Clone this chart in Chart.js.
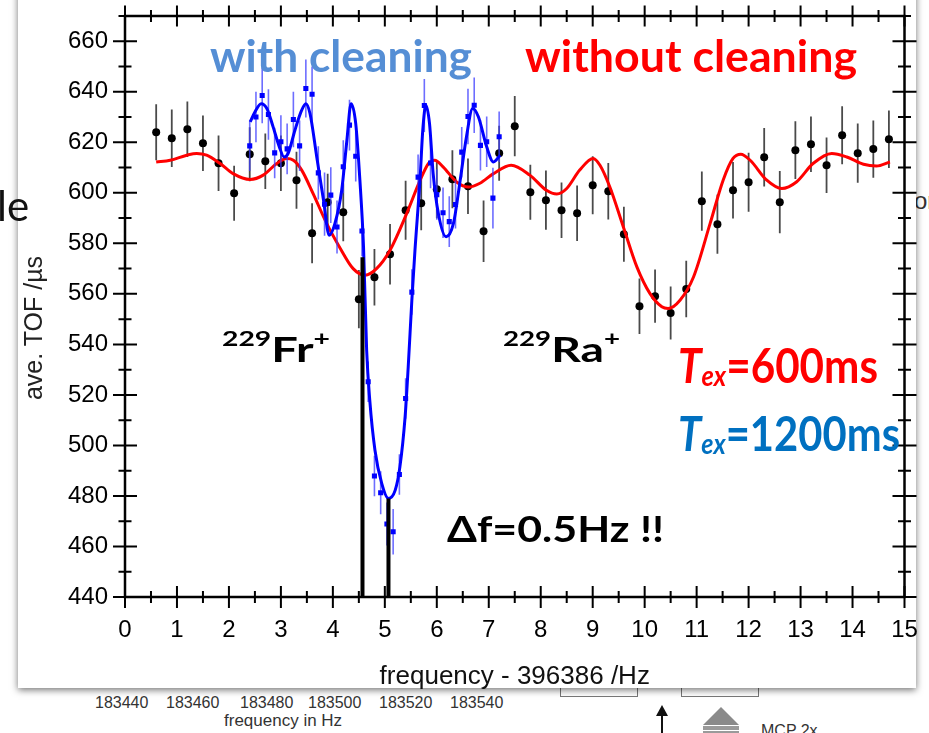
<!DOCTYPE html>
<html>
<head>
<meta charset="utf-8">
<script src="https://cdn.jsdelivr.net/npm/chart.js@4.4.1/dist/chart.umd.min.js"></script>
<style>
  html, body { margin: 0; padding: 0; background: #fff; }
  #page { position: relative; width: 929px; height: 733px; overflow: hidden; background: #fff;
          font-family: "Liberation Sans", Arial, sans-serif; }
  #panel { position: absolute; left: 18px; top: -20px; width: 898px; height: 708px; background: #fff;
           box-shadow: 0 2px 7px rgba(0,0,0,0.55); }
  #chart { position: absolute; left: 0; top: 0; }
  .note { position: absolute; font-family: Lato, "Open Sans", sans-serif; font-weight: 700; line-height: 1;
          white-space: nowrap; transform-origin: 0 0; }
  .sup { font-size: 0.6em; position: relative; top: -0.75em; }
  .sub { font-size: 0.6em; position: relative; top: 0.12em; font-style: italic; }
  .it { font-style: italic; }
  .bg { position: absolute; white-space: nowrap; color: #333; }
  .box { position: absolute; border: 1.5px solid #777; background: #fff; }
  #ytitle { position: absolute; left: -67px; top: 313px; width: 200px; height: 30px; line-height: 30px;
            text-align: center; font-size: 25px; color: #222; transform: rotate(-90deg); white-space: nowrap; }
</style>
</head>
<body>
<div id="page">
  <!-- parts of the slide lying behind the plot panel -->
  <div class="bg" style="left:914px; top:187px; font-size:24px;">or</div>
  <div class="bg" style="left:95px; top:694px; font-size:16px;">183440</div>
  <div class="bg" style="left:166px; top:694px; font-size:16px;">183460</div>
  <div class="bg" style="left:240px; top:694px; font-size:16px;">183480</div>
  <div class="bg" style="left:308px; top:694px; font-size:16px;">183500</div>
  <div class="bg" style="left:379px; top:694px; font-size:16px;">183520</div>
  <div class="bg" style="left:450px; top:694px; font-size:16px;">183540</div>
  <div class="bg" style="left:224px; top:711px; font-size:17px;">frequency in Hz</div>
  <div class="box" style="left:560px; top:640px; width:76px; height:55px;"></div>
  <div class="box" style="left:681px; top:640px; width:76px; height:55px;"></div>
  <div style="position:absolute; left:661px; top:714px; width:2px; height:30px; background:#111;"></div>
  <div style="position:absolute; left:656px; top:705px; width:0; height:0; border-left:6px solid transparent; border-right:6px solid transparent; border-bottom:11px solid #111;"></div>
  <div style="position:absolute; left:703px; top:707px; width:0; height:0; border-left:18px solid transparent; border-right:18px solid transparent; border-bottom:18px solid #8a8a8a;"></div>
  <div style="position:absolute; left:703px; top:726px; width:36px; height:4px; background:#9a9a9a;"></div>
  <div style="position:absolute; left:703px; top:731px; width:36px; height:4px; background:#9a9a9a;"></div>
  <div class="bg" style="left:761px; top:722px; font-size:16px;">MCP 2x</div>

  <div id="panel"></div>
  <canvas id="chart" width="929" height="733"></canvas>

  <div class="bg" style="left:-3px; top:180px; font-family:Lato,sans-serif; font-size:42px; color:#111;">le</div>
  <div id="ytitle">ave. TOF /µs</div>

  <div class="note" data-w="262" style="left:210px; top:33px; font-size:44px; color:#558ED5;">with cleaning</div>
  <div class="note" data-w="332" style="left:525px; top:33px; font-size:44px; color:#FF0000;">without cleaning</div>
  <div class="note" data-w="108" style="left:222px; top:331px; font-size:35px; color:#000;"><span class="sup">229</span>Fr<span class="sup">+</span></div>
  <div class="note" data-w="117" style="left:503px; top:331px; font-size:35px; color:#000;"><span class="sup">229</span>Ra<span class="sup">+</span></div>
  <div class="note" data-w="200" style="left:678px; top:342px; font-size:47px; color:#FF0000;"><span class="it">T</span><span class="sub">ex</span>=600ms</div>
  <div class="note" data-w="222" style="left:678px; top:410px; font-size:47px; color:#0070C0;"><span class="it">T</span><span class="sub">ex</span>=1200ms</div>
  <div class="note" data-w="217" style="left:447px; top:509px; font-size:37px; color:#000;">&Delta;f=0.5Hz !!</div>
</div>

<script>
// Frequency offsets (Hz) and mean time of flight (µs), T_ex = 600 ms, no cleaning
const blackFreq = [0.6, 0.9, 1.2, 1.5, 1.8, 2.1, 2.4, 2.7, 3.0, 3.3, 3.6, 3.9, 4.2, 4.5, 4.8, 5.1,
                   5.4, 5.7, 6.0, 6.3, 6.6, 6.9, 7.2, 7.5, 7.8, 8.1, 8.4, 8.7, 9.0, 9.3, 9.6, 9.9,
                   10.2, 10.5, 10.8, 11.1, 11.4, 11.7, 12.0, 12.3, 12.6, 12.9, 13.2, 13.5, 13.8, 14.1, 14.4, 14.7];
const blackTof = [624.0, 621.6, 625.2, 619.6, 611.7, 599.8, 615.3, 612.5, 611.7, 605.0, 584.0, 596.3,
                  592.3, 557.9, 566.6, 575.7, 593.1, 595.9, 601.4, 605.4, 602.6, 584.8, 615.7, 626.4,
                  600.2, 597.1, 593.1, 591.9, 603.0, 600.6, 583.6, 555.1, 559.1, 552.4, 561.9, 596.7,
                  587.6, 601.0, 604.2, 614.1, 596.3, 616.9, 619.2, 610.9, 622.8, 615.7, 617.3, 621.2];
const blackErr = [11.1, 11.4, 11.0, 11.0, 11.0, 10.9, 10.7, 11.0, 11.0, 11.3, 11.9, 11.3,
                  11.5, 11.5, 11.2, 12.0, 11.7, 10.7, 11.5, 11.5, 11.0, 12.2, 10.9, 11.9,
                  10.9, 11.7, 11.0, 11.0, 11.5, 11.2, 10.9, 11.0, 10.5, 10.5, 11.2, 11.7,
                  11.7, 11.2, 11.7, 11.6, 12.3, 11.4, 11.0, 11.0, 11.5, 11.7, 11.3, 11.4];

// T_ex = 1200 ms scan after cleaning
const blueFreq = [2.40, 2.52, 2.64, 2.76, 2.88, 3.00, 3.12, 3.24, 3.36, 3.48, 3.60, 3.72, 3.84, 3.96,
                  4.08, 4.20, 4.32, 4.44, 4.56, 4.68, 4.80, 4.92, 5.04, 5.16, 5.28, 5.40, 5.52, 5.64,
                  5.76, 5.88, 6.00, 6.12, 6.24, 6.36, 6.48, 6.60, 6.72, 6.84, 6.96, 7.08, 7.20];
const blueTof = [618.6, 630.0, 638.5, 631.0, 615.8, 620.2, 617.4, 629.0, 618.6, 641.3, 639.0, 607.9,
                 595.5, 599.1, 586.5, 610.3, 626.8, 614.5, 584.9, 525.2, 487.9, 481.3, 468.9, 465.8,
                 488.5, 518.6, 560.7, 606.2, 634.6, 611.8, 599.3, 592.1, 588.6, 595.4, 616.1, 630.2,
                 634.7, 618.8, 620.2, 597.9, 622.2];
const blueErr = [10.0, 10.0, 11.0, 10.0, 10.0, 10.5, 10.0, 11.0, 10.0, 11.5, 11.0, 10.5, 12.5, 11.0,
                 10.5, 10.5, 10.0, 10.0, 10.0, 8.0, 8.0, 8.5, 8.5, 9.0, 8.0, 8.0, 9.0, 9.0,
                 10.5, 10.0, 10.0, 10.0, 10.0, 9.5, 10.0, 11.0, 11.0, 10.0, 10.0, 12.0, 10.0];

// Fitted line shapes
const redFitFreq = [0.60, 0.87, 1.19, 1.38, 1.57, 1.83, 2.08, 2.41, 2.66, 2.92, 3.11, 3.24, 3.40, 3.62,
                    3.88, 4.14, 4.39, 4.62, 4.84, 5.10, 5.42, 5.68, 5.84, 5.96, 6.12, 6.38, 6.61, 6.83,
                    7.09, 7.43, 7.79, 8.11, 8.31, 8.50, 8.75, 9.01, 9.14, 9.33, 9.59, 9.85, 10.10, 10.33,
                    10.45, 10.68, 10.94, 11.26, 11.51, 11.70, 11.85, 12.03, 12.35, 12.64, 12.92, 13.24,
                    13.60, 13.89, 14.21, 14.46, 14.72];
const redFitTof = [612.2, 612.9, 614.9, 615.6, 614.9, 611.6, 607.6, 605.3, 607.0, 611.6, 613.6, 612.9,
                   609.0, 599.7, 587.9, 578.1, 570.0, 567.4, 570.0, 577.3, 591.8, 605.0, 611.6, 612.9,
                   610.3, 604.3, 602.3, 603.8, 607.6, 610.9, 607.0, 601.0, 599.5, 601.7, 609.0, 613.6,
                   610.9, 602.3, 586.5, 570.7, 560.2, 554.9, 554.2, 557.5, 566.7, 587.9, 605.0, 613.6,
                   615.3, 612.9, 605.0, 601.7, 604.3, 611.6, 615.6, 614.2, 611.3, 610.6, 612.2];
const blueFitFreq = [2.41, 2.50, 2.62, 2.73, 2.85, 2.97, 3.06, 3.14, 3.27, 3.40, 3.48, 3.56, 3.69, 3.82,
                     3.93, 4.04, 4.17, 4.27, 4.35, 4.44, 4.52, 4.59, 4.65, 4.71, 4.81, 4.94, 5.07, 5.20,
                     5.29, 5.39, 5.45, 5.52, 5.58, 5.68, 5.73, 5.79, 5.86, 5.93, 6.03, 6.18, 6.32, 6.45,
                     6.57, 6.69, 6.80, 6.96, 7.09, 7.22];
const blueFitTof = [628.1, 632.0, 635.3, 633.4, 626.1, 618.2, 614.2, 615.6, 624.8, 632.7, 635.3, 631.4,
                    614.2, 597.1, 583.2, 587.9, 601.0, 620.8, 635.3, 627.4, 605.0, 578.6, 537.7, 517.9,
                    498.1, 485.0, 479.0, 482.3, 491.5, 511.3, 531.1, 557.5, 577.3, 606.3, 624.8, 634.7,
                    627.4, 607.6, 591.8, 582.6, 587.9, 605.0, 622.1, 633.4, 630.1, 618.2, 612.2, 614.9];

// Resonance markers: 229Fr+ and 229Ra+ centres, 0.5 Hz apart
const markerFreq = [4.57, 5.07];
const markerTop = [574.5, 479.0];

// Axis ranges and tick steps
const X_MIN = 0, X_MAX = 15, X_MAJOR = 1, X_MINOR = 0.5;
const Y_MIN = 440, Y_MAX = 670, Y_MAJOR = 20, Y_MINOR = 10;

const pairs = (xs, ys) => xs.map((v, i) => ({ x: v, y: ys[i] }));

// Vertical error bars, drawn just beneath their own dataset
const errorBars = {
  id: 'errorBars',
  beforeDatasetDraw(chart, args) {
    const ds = chart.data.datasets[args.index];
    if (!ds.errors) return;
    const { ctx, chartArea: a, scales: { x, y } } = chart;
    ctx.save();
    ctx.beginPath();
    ctx.rect(a.left, a.top, a.right - a.left, a.bottom - a.top);
    ctx.clip();
    ctx.strokeStyle = ds.errorColor;
    ctx.lineWidth = ds.errorWidth;
    ctx.beginPath();
    ds.data.forEach((p, i) => {
      const px = x.getPixelForValue(p.x);
      ctx.moveTo(px, y.getPixelForValue(p.y - ds.errors[i]));
      ctx.lineTo(px, y.getPixelForValue(p.y + ds.errors[i]));
    });
    ctx.stroke();
    ctx.restore();
  }
};

// Closed frame with ticks crossing every side
const frameTicks = {
  id: 'frameTicks',
  afterDatasetsDraw(chart) {
    const { ctx, chartArea: a, scales: { x, y } } = chart;
    ctx.save();
    ctx.strokeStyle = '#000';
    ctx.lineCap = 'butt';
    ctx.lineWidth = 2.5;
    ctx.strokeRect(a.left, a.top, a.right - a.left, a.bottom - a.top);
    ctx.lineWidth = 2;
    ctx.beginPath();
    const nx = Math.round((X_MAX - X_MIN) / X_MINOR);
    for (let i = 0; i <= nx; i++) {
      const v = X_MIN + i * X_MINOR;
      const px = x.getPixelForValue(v);
      const major = i % Math.round(X_MAJOR / X_MINOR) === 0;
      const hb = major ? 11 : 6, ht = major ? 10.5 : 6;
      ctx.moveTo(px, a.bottom - hb); ctx.lineTo(px, a.bottom + hb);
      ctx.moveTo(px, a.top - ht); ctx.lineTo(px, a.top + ht);
    }
    const ny = Math.round((Y_MAX - Y_MIN) / Y_MINOR);
    for (let i = 0; i <= ny; i++) {
      const v = Y_MIN + i * Y_MINOR;
      const py = y.getPixelForValue(v);
      const major = i % Math.round(Y_MAJOR / Y_MINOR) === 0;
      const h = major ? 12 : 6.5;
      ctx.moveTo(a.left - h, py); ctx.lineTo(a.left + h, py);
      ctx.moveTo(a.right - h, py); ctx.lineTo(a.right + h, py);
    }
    ctx.stroke();
    ctx.restore();
  }
};

const tickFont = { family: '"Liberation Sans", Arial, sans-serif', size: 24 };
// label offset is carried by an invisible tick mark so it does not widen the layout padding
const hiddenGrid = (len) => ({ display: true, drawOnChartArea: false, drawTicks: true,
                               tickLength: len, color: 'rgba(0,0,0,0)', tickColor: 'rgba(0,0,0,0)' });

new Chart(document.getElementById('chart'), {
  type: 'scatter',
  data: {
    datasets: [
      { label: '229Fr+', data: [{ x: markerFreq[0], y: Y_MIN }, { x: markerFreq[0], y: markerTop[0] }],
        showLine: true, borderColor: '#000', borderWidth: 4, pointRadius: 0 },
      { label: '229Ra+', data: [{ x: markerFreq[1], y: Y_MIN }, { x: markerFreq[1], y: markerTop[1] }],
        showLine: true, borderColor: '#000', borderWidth: 4, pointRadius: 0 },
      { label: 'fit, Tex=1200ms', data: pairs(blueFitFreq, blueFitTof), showLine: true,
        borderColor: '#0000FF', borderWidth: 3, pointRadius: 0, cubicInterpolationMode: 'monotone' },
      { label: 'with cleaning', data: pairs(blueFreq, blueTof), showLine: false,
        pointStyle: 'rect', pointRadius: 3.6, backgroundColor: '#0000FF', borderColor: '#0000FF', borderWidth: 0,
        errors: blueErr, errorColor: 'rgba(60,60,255,0.75)', errorWidth: 1.6 },
      { label: 'fit, Tex=600ms', data: pairs(redFitFreq, redFitTof), showLine: true,
        borderColor: '#FF0000', borderWidth: 3, pointRadius: 0, cubicInterpolationMode: 'monotone' },
      { label: 'without cleaning', data: pairs(blackFreq, blackTof), showLine: false,
        pointStyle: 'circle', pointRadius: 4, backgroundColor: '#000', borderColor: '#000', borderWidth: 0,
        errors: blackErr, errorColor: '#4a4a4a', errorWidth: 1.8 }
    ]
  },
  options: {
    responsive: false,
    animation: false,
    devicePixelRatio: 1,
    layout: { padding: { left: 0, top: 16, right: 24.5, bottom: 40 } },
    plugins: { legend: { display: false }, tooltip: { enabled: false } },
    scales: {
      x: {
        type: 'linear', min: X_MIN, max: X_MAX,
        grid: hiddenGrid(19),
        border: { display: false },
        ticks: { stepSize: X_MAJOR, includeBounds: false, color: '#000', font: tickFont, padding: 0, maxRotation: 0 },
        title: { display: true, text: 'frequency - 396386 /Hz', color: '#111',
                 font: { family: '"Liberation Sans", Arial, sans-serif', size: 26 }, padding: { top: 0, bottom: 1 } },
        afterFit(scale) { scale.height = 96; }
      },
      y: {
        type: 'linear', min: Y_MIN, max: Y_MAX,
        grid: hiddenGrid(17),
        border: { display: false },
        ticks: { stepSize: Y_MAJOR, includeBounds: false, color: '#000', font: tickFont, padding: 0 },
        afterBuildTicks(scale) { scale.ticks = scale.ticks.filter(t => t.value % Y_MAJOR === 0); },
        afterFit(scale) { scale.width = 125; }
      }
    }
  },
  plugins: [errorBars, frameTicks]
});

// Fit each annotation to its printed width
document.querySelectorAll('.note[data-w]').forEach(el => {
  const w = el.getBoundingClientRect().width;
  if (w > 0) el.style.transform = 'scaleX(' + (parseFloat(el.dataset.w) / w) + ')';
});
</script>
</body>
</html>
